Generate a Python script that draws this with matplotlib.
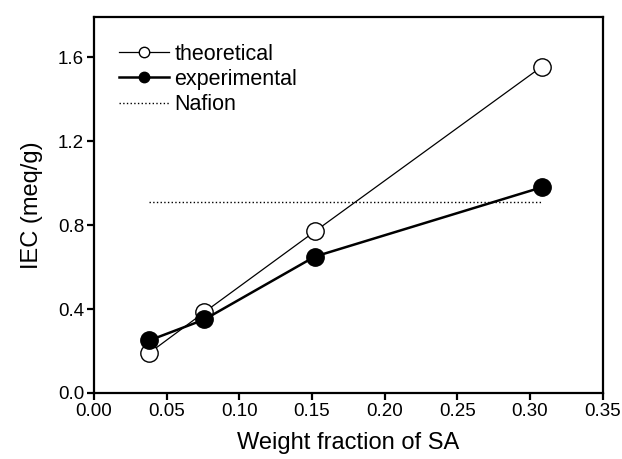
import numpy as np
import matplotlib
matplotlib.use("Agg")
import matplotlib.pyplot as plt

plt.rcParams['font.family'] = ['Liberation Sans', 'DejaVu Sans']

# data
wf = [0.038, 0.076, 0.152, 0.308]
iec_theo = [0.19, 0.385, 0.77, 1.555]
iec_exp = [0.25, 0.35, 0.65, 0.98]
nafion_x = [0.038, 0.308]
nafion_y = [0.91, 0.91]

fig = plt.figure(figsize=(6.22, 4.59), dpi=100)
ax = fig.add_axes([0.151, 0.144, 0.818, 0.818])

ax.plot(wf, iec_theo, '-o', color='black', lw=0.9, ms=12.5,
        mfc='white', mec='black', mew=1.0, label='theoretical', zorder=3)
ax.plot(wf, iec_exp, '-o', color='black', lw=1.8, ms=12.5,
        mfc='black', mec='black', label='experimental', zorder=4)
ax.plot(nafion_x, nafion_y, ':', color='black', lw=1.0, label='Nafion')

ax.set_xlim(0, 0.35)
ax.set_ylim(0, 1.79)
ax.set_xticks(np.arange(0, 0.351, 0.05))
ax.set_yticks([0.0, 0.4, 0.8, 1.2, 1.6])
ax.xaxis.set_major_formatter(matplotlib.ticker.FormatStrFormatter('%.2f'))
ax.yaxis.set_major_formatter(matplotlib.ticker.FormatStrFormatter('%.1f'))

for s in ax.spines.values():
    s.set_linewidth(1.6)
ax.tick_params(direction='out', length=5, width=1.6, labelsize=13.5, pad=2)

ax.set_xlabel('Weight fraction of SA', fontsize=17, labelpad=9)
ax.set_ylabel('IEC (meq/g)', fontsize=17, labelpad=11)

ax.legend(loc='upper left', bbox_to_anchor=(0.05, 0.93), frameon=False,
          fontsize=15.5, markerscale=0.6, handlelength=2.3, handletextpad=0.25,
          labelspacing=0.2, borderaxespad=0, borderpad=0)

fig.savefig('out.png', dpi=100)
